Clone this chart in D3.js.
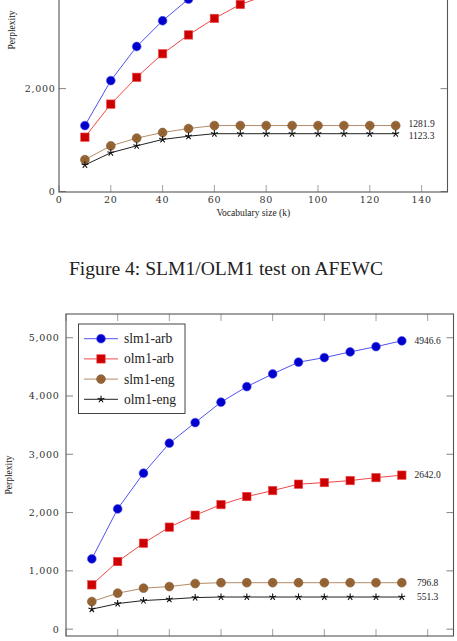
<!DOCTYPE html>
<html>
<head>
<meta charset="utf-8">
<script src="https://cdn.jsdelivr.net/npm/d3@7"></script>
<style>
  body { margin: 0; background: #fff; }
  svg { display: block; }
  .tick-label { font-family: "DejaVu Serif", serif; font-size: 9.5px; letter-spacing: 0.7px; fill: #333; }
  .times { font-family: "Liberation Serif", serif; fill: #222; }
</style>
</head>
<body>
<svg id="fig"></svg>
<script>
// x values (vocabulary size, k)
var vocab = [10, 20, 30, 40, 50, 60, 70, 80, 90, 100, 110, 120, 130];
var seriesNames = ["slm1-arb", "olm1-arb", "slm1-eng", "olm1-eng"];

// Figure 4 (AFEWC) - top of the chart is cut off, upper points are estimates
var afewcSlmArb = [1282, 2156, 2819, 3320, 3741, 4120, 4450, 4750, 5000, 5200, 5400, 5600, 5765];
var afewcOlmArb = [1056, 1699, 2220, 2678, 3044, 3365, 3637, 3813, 4000, 4150, 4280, 4400, 4500];
var afewcSlmEng = [618, 888, 1037, 1147, 1224, 1281.9, 1281.9, 1281.9, 1281.9, 1281.9, 1281.9, 1281.9, 1281.9];
var afewcOlmEng = [515, 753, 888, 1011, 1075, 1123.3, 1123.3, 1123.3, 1123.3, 1123.3, 1123.3, 1123.3, 1123.3];

// second chart
var slmArb = [1206, 2063, 2676, 3190, 3544, 3894, 4161, 4379, 4580, 4659, 4756, 4847, 4946.6];
var olmArb = [760, 1160, 1475, 1750, 1955, 2137, 2275, 2377, 2487, 2515, 2549, 2600, 2642.0];
var slmEng = [474, 617, 703, 731, 782, 796.8, 796.8, 796.8, 796.8, 796.8, 796.8, 796.8, 796.8];
var olmEng = [343, 439, 491, 514, 542, 551.3, 551.3, 551.3, 551.3, 551.3, 551.3, 551.3, 551.3];

var xTicks = [0, 20, 40, 60, 80, 100, 120, 140];
var yTicksTop = [0, 2000, 4000, 6000];
var yTicksBottom = [0, 1000, 2000, 3000, 4000, 5000];
var labelX = 140;

var caption = "Figure 4: SLM1/OLM1 test on AFEWC";

var width = 457, height = 641;
var svg = d3.select("#fig").attr("width", width).attr("height", height);

// pgfplots-like styles
var styles = [
  {line: "#5252f0", fill: "#0000cc", mark: "circle"},
  {line: "#f04848", fill: "#cc0000", mark: "square"},
  {line: "#b48c68", fill: "#996633", mark: "otimes"},
  {line: "#222", fill: "#222", mark: "star"}
];

// the page only shows part of each figure: skip text that would sit off the page
function onPage(yy) { return yy > 6 && yy < height; }

function drawMark(g, type, st) {
  if (type == "circle") {
    g.append("circle").attr("r", 4.4).attr("fill", st.fill).attr("stroke", st.line).attr("stroke-width", 0.6);
  } else if (type == "square") {
    g.append("rect").attr("x", -4.2).attr("y", -4.2).attr("width", 8.4).attr("height", 8.4)
      .attr("fill", st.fill).attr("stroke", st.line).attr("stroke-width", 0.6);
  } else if (type == "otimes") {
    g.append("circle").attr("r", 4.4).attr("fill", st.fill).attr("stroke", "#7a5230").attr("stroke-width", 0.6);
    g.append("path").attr("d", "M-2.4,-2.4L2.4,2.4M-2.4,2.4L2.4,-2.4")
      .attr("stroke", "#7a5230").attr("stroke-width", 0.5);
  } else {
    var d = "";
    for (var k = 0; k < 5; k++) {
      var a = -Math.PI / 2 + k * 2 * Math.PI / 5;
      d += "M0,0L" + (3.6 * Math.cos(a)).toFixed(2) + "," + (3.6 * Math.sin(a)).toFixed(2);
    }
    g.append("path").attr("d", d).attr("stroke", "#111").attr("stroke-width", 1.1).attr("fill", "none");
  }
}

function drawChart(cfg) {
  var all = [].concat.apply([], cfg.series);
  var lo = d3.min(all), hi = d3.max(all), pad = 0.1 * (hi - lo);

  var x = d3.scaleLinear().domain([0, 150]).range([cfg.left, cfg.right]);
  var y = d3.scaleLinear().domain([lo - pad, hi + pad]).range([cfg.bottom, cfg.top]);

  var g = svg.append("g");

  // ticks on all four sides, pointing inward
  var tickLen = 7;
  xTicks.forEach(function(t) {
    g.append("line").attr("x1", x(t)).attr("x2", x(t)).attr("y1", cfg.bottom).attr("y2", cfg.bottom - tickLen)
      .attr("stroke", "#888").attr("stroke-width", 0.8);
    g.append("line").attr("x1", x(t)).attr("x2", x(t)).attr("y1", cfg.top).attr("y2", cfg.top + tickLen)
      .attr("stroke", "#888").attr("stroke-width", 0.8);
    if (onPage(cfg.bottom + 11))
      g.append("text").attr("class", "tick-label").attr("x", x(t)).attr("y", cfg.bottom + 11)
        .attr("text-anchor", "middle").text(t);
  });
  cfg.yTicks.forEach(function(t) {
    g.append("line").attr("x1", cfg.left).attr("x2", cfg.left + tickLen).attr("y1", y(t)).attr("y2", y(t))
      .attr("stroke", "#666").attr("stroke-width", 0.8);
    g.append("line").attr("x1", cfg.right).attr("x2", cfg.right - tickLen).attr("y1", y(t)).attr("y2", y(t))
      .attr("stroke", "#666").attr("stroke-width", 0.8);
    if (onPage(y(t)))
      g.append("text").attr("class", "tick-label").attr("x", cfg.yLabelX).attr("y", y(t) + 3.4)
        .attr("text-anchor", "end").text(d3.format(",")(t));
  });

  // frame
  g.append("rect").attr("x", cfg.left).attr("y", cfg.top)
    .attr("width", cfg.right - cfg.left).attr("height", cfg.bottom - cfg.top)
    .attr("fill", "none").attr("stroke", "#555").attr("stroke-width", 1.1);

  // axis titles
  if (onPage(cfg.bottom + 24))
    g.append("text").attr("class", "times").attr("font-size", 9.5)
      .attr("x", (cfg.left + cfg.right) / 2).attr("y", cfg.bottom + 24)
      .attr("text-anchor", "middle").text("Vocabulary size (k)");
  g.append("text").attr("class", "times").attr("font-size", 9.5)
    .attr("transform", "translate(" + cfg.perpX + "," + (cfg.top + cfg.bottom) / 2 + ") rotate(-90)")
    .attr("text-anchor", "middle").text("Perplexity");

  var line = d3.line().x(function(d, i) { return x(vocab[i]); }).y(function(d) { return y(d); });

  cfg.series.forEach(function(vals, s) {
    var st = styles[s];
    g.append("path").attr("d", line(vals)).attr("fill", "none")
      .attr("stroke", st.line).attr("stroke-width", 1);
    vals.forEach(function(v, i) {
      drawMark(g.append("g").attr("transform", "translate(" + x(vocab[i]) + "," + y(v) + ")"), st.mark, st);
    });
    // end value label
    var last = vals[vals.length - 1];
    var ly = y(last) + 3.3 + (cfg.labelShift[s] || 0);
    if (onPage(ly))
      g.append("text").attr("class", "times").attr("font-size", 9.5)
        .attr("x", x(labelX)).attr("y", ly)
        .attr("text-anchor", "middle").text(d3.format(".1f")(last));
  });

  if (cfg.legend) {
    var lg = g.append("g");
    lg.append("rect").attr("x", 78.5).attr("y", 324).attr("width", 106.5).attr("height", 89.5)
      .attr("fill", "#fff").attr("stroke", "#444").attr("stroke-width", 1);
    seriesNames.forEach(function(name, s) {
      var yy = 338.7 + s * 20.2;
      var st = styles[s];
      lg.append("line").attr("x1", 84).attr("x2", 118).attr("y1", yy).attr("y2", yy)
        .attr("stroke", st.line).attr("stroke-width", 1);
      drawMark(lg.append("g").attr("transform", "translate(101," + yy + ")"), st.mark, st);
      lg.append("text").attr("class", "times").attr("font-size", 13.6)
        .attr("x", 124).attr("y", yy + 4.4).text(name);
    });
  }
}

drawChart({
  left: 59, right: 447.5, top: -132, bottom: 192,
  series: [afewcSlmArb, afewcOlmArb, afewcSlmEng, afewcOlmEng],
  yTicks: yTicksTop, yLabelX: 55.5, perpX: 14.5,
  labelShift: [0, 0, -1.5, 1.5], legend: false
});

drawChart({
  left: 66, right: 453.5, top: 314, bottom: 636,
  series: [slmArb, olmArb, slmEng, olmEng],
  yTicks: yTicksBottom, yLabelX: 59.5, perpX: 12,
  labelShift: [0, 0, 0, 0], legend: true
});

svg.append("text").attr("class", "times").attr("font-size", 19.6)
  .attr("x", 226).attr("y", 275).attr("text-anchor", "middle").text(caption);
</script>
</body>
</html>
